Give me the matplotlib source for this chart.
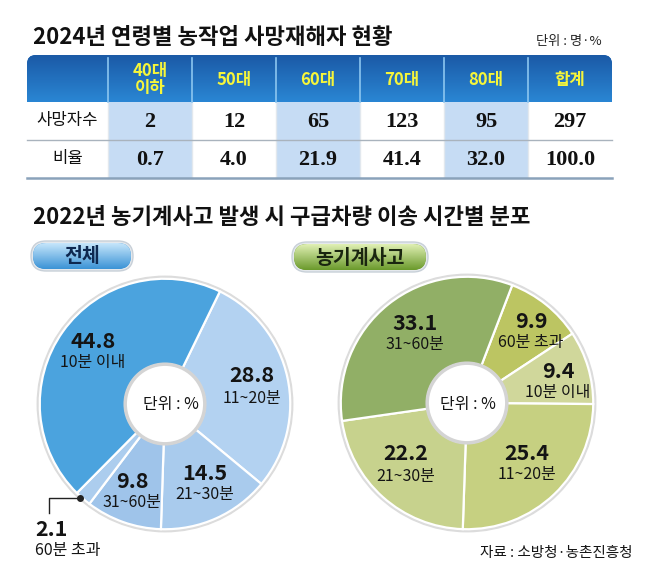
import numpy as np
import matplotlib
matplotlib.use("Agg")
import matplotlib.pyplot as plt
from matplotlib.patches import FancyBboxPatch, Rectangle, Circle

plt.rcParams['font.family'] = ['Noto Sans CJK KR', 'DejaVu Sans']

# ---- data ----
title_top = "2024년 연령별 농작업 사망재해자 현황"
unit_top = "단위 : 명·%"
age_groups = ["40대\n이하", "50대", "60대", "70대", "80대", "합계"]
row_names = ["사망자수", "비율"]
deaths = [2, 12, 65, 123, 95, 297]
ratios = [0.7, 4.0, 21.9, 41.4, 32.0, 100.0]

title_bottom = "2022년 농기계사고 발생 시 구급차량 이송 시간별 분포"
all_labels = ["11~20분", "21~30분", "31~60분", "60분 초과", "10분 이내"]
all_values = [28.8, 14.5, 9.8, 2.1, 44.8]
farm_labels = ["60분 초과", "10분 이내", "11~20분", "21~30분", "31~60분"]
farm_values = [9.9, 9.4, 25.4, 22.2, 33.1]
source = "자료 : 소방청·농촌진흥청"

W, H = 658, 581
fig = plt.figure(figsize=(W / 100, H / 100), dpi=100)
fig.patch.set_facecolor("white")


def gradient(ax, x0, x1, y0, y1, c_top, c_bot, clip=None, z=1):
    a = np.array(matplotlib.colors.to_rgb(c_top))
    b = np.array(matplotlib.colors.to_rgb(c_bot))
    t = np.linspace(0, 1, 64)[:, None, None]
    img = a * (1 - t) + b * t
    im = ax.imshow(img, extent=(x0, x1, y1, y0), aspect="auto", zorder=z,
                   interpolation="bilinear")
    if clip is not None:
        im.set_clip_path(clip)
    return im


# ---- donuts ----
def donut(cx, cy, r, values, colors, start):
    dax = fig.add_axes([(cx - r) / W, 1 - (cy + r) / H, 2 * r / W, 2 * r / H])
    hole = 41 / r
    dax.add_patch(Circle((0, 0), 1.02, color="#dcdcdc", zorder=0))
    dax.pie(values, colors=colors, startangle=start, counterclock=False,
            wedgeprops=dict(width=1 - hole, edgecolor="white", linewidth=1.6))
    dax.add_patch(Circle((0, 0), hole, facecolor="white", edgecolor="#d4d4d4",
                         lw=2.5, zorder=5))
    dax.set_xlim(-1.03, 1.03)
    dax.set_ylim(-1.03, 1.03)
    dax.set_aspect("equal")
    dax.axis("off")
    return dax


donut(165, 404, 129, all_values,
      ["#b3d2f1", "#a9cbed", "#9fc4ea", "#accdee", "#4ba3de"], 64)
donut(467, 403, 130, farm_values,
      ["#bcc562", "#d0d79b", "#c6d081", "#c7d28d", "#91af66"], 69)

# ---- main overlay axes ----
ax = fig.add_axes([0, 0, 1, 1], zorder=5)
ax.patch.set_alpha(0)
ax.axis("off")

ax.text(33, 38, title_top, fontsize=16, fontweight="bold", va="center", color="#111111")
ax.text(602, 42, unit_top, fontsize=9.5, ha="right", va="center", color="#222222")

# table
col_x = [27, 108, 192, 276, 360, 444, 528, 612]
hdr_top, hdr_bot, r1_bot, r2_bot = 55, 102, 140, 178

hdr = FancyBboxPatch((col_x[0], hdr_top), col_x[-1] - col_x[0], 60,
                     boxstyle="round,pad=0,rounding_size=9",
                     facecolor="#1e6dbd", edgecolor="none", zorder=1)
ax.add_patch(hdr)
gradient(ax, col_x[0], col_x[-1], hdr_top, hdr_bot, "#1b5aa6", "#2a86d4", clip=hdr, z=1)
for x in col_x[1:-1]:
    ax.plot([x, x], [hdr_top + 3, hdr_bot], color="#8cc6f0", lw=1.2, zorder=3)

for i, name in enumerate(age_groups):
    xc = (col_x[i + 1] + col_x[i + 2]) / 2
    ax.text(xc, (hdr_top + hdr_bot) / 2 + 1, name, fontsize=12, fontweight="bold",
            color="#f6f63a", ha="center", va="center", linespacing=0.95, zorder=4)

# body cells
for i in range(len(col_x) - 1):
    shaded = i in (1, 3, 5)
    fc = "#c6dcf4" if shaded else "white"
    ax.add_patch(Rectangle((col_x[i], hdr_bot), col_x[i + 1] - col_x[i],
                           r2_bot - hdr_bot, facecolor=fc, edgecolor="none", zorder=2))
    if i > 0:
        ax.plot([col_x[i], col_x[i]], [hdr_bot, r2_bot], color="#e2e8ee", lw=1, zorder=2.5)
ax.plot([col_x[0], col_x[-1]], [r1_bot, r1_bot], color="#a9b3bd", lw=1, zorder=3)
ax.plot([col_x[0], col_x[-1]], [r2_bot, r2_bot], color="#8aa2ba", lw=1.8, zorder=3)

rows = [[str(v) for v in deaths], [f"{v:.1f}" for v in ratios]]
row_mid = [(hdr_bot + r1_bot) / 2, (r1_bot + r2_bot) / 2]
for j, name in enumerate(row_names):
    ax.text((col_x[0] + col_x[1]) / 2, row_mid[j], name, fontsize=12,
            ha="center", va="center", color="#111111", zorder=4)
    for i, txt in enumerate(rows[j]):
        ax.text((col_x[i + 1] + col_x[i + 2]) / 2, row_mid[j] + 1, txt, fontsize=16,
                family=["Liberation Serif"], fontweight="bold",
                ha="center", va="center", color="#111111", zorder=4)

ax.text(33, 218, title_bottom, fontsize=16, fontweight="bold", va="center", color="#111111")


# pills
def pill(x0, x1, y0, y1, c_top, c_bot, text, tcolor):
    ax.add_patch(FancyBboxPatch((x0 - 2, y0 - 2), x1 - x0 + 4, y1 - y0 + 4,
                                boxstyle="round,pad=0,rounding_size=%d" % ((y1 - y0) / 2 + 2),
                                facecolor="#e4e8ec", edgecolor="#c8d0d8", lw=1, zorder=1))
    p = FancyBboxPatch((x0, y0), x1 - x0, y1 - y0,
                       boxstyle="round,pad=0,rounding_size=%d" % ((y1 - y0) / 2),
                       facecolor=c_bot, edgecolor="none", zorder=2)
    ax.add_patch(p)
    gradient(ax, x0, x1, y0, y1, c_top, c_bot, clip=p, z=2)
    ax.text((x0 + x1) / 2, (y0 + y1) / 2 + 1, text, fontsize=14, fontweight="bold",
            ha="center", va="center", color=tcolor, zorder=4)


pill(33, 131, 243, 269, "#c6e6fb", "#3b93d6", "전체", "#0e2850")
pill(294, 426, 244, 270, "#e0f0b4", "#6b9a2c", "농기계사고", "#1a2610")

# donut labels
all_pos = [(252, 376), (205, 473), (132, 481), (35, 529), (93, 341)]
for (x, y), v, lab in zip(all_pos, all_values, all_labels):
    ha = "left" if v == all_values[3] else "center"
    ax.text(x, y, f"{v:.1f}", fontsize=15.5, fontweight="bold", ha=ha, va="center",
            color="#141414", zorder=6)
    ax.text(x, y + 22, lab, fontsize=11.5, ha=ha, va="center", color="#141414", zorder=6)
ax.plot([80, 49, 49], [498, 498, 513], color="#222222", lw=1, zorder=6)
ax.plot([80], [498], "o", color="#222222", ms=4, zorder=6)
ax.text(171, 404, "단위 : %", fontsize=11.5, ha="center", va="center", color="#141414", zorder=6)

farm_pos = [(531, 321), (558, 371), (527, 453), (406, 454), (415, 323)]
for (x, y), v, lab in zip(farm_pos, farm_values, farm_labels):
    ax.text(x, y, f"{v:.1f}", fontsize=15.5, fontweight="bold", ha="center", va="center",
            color="#141414", zorder=6)
    ax.text(x, y + 22, lab, fontsize=11.5, ha="center", va="center", color="#141414", zorder=6)
ax.text(468, 404, "단위 : %", fontsize=11.5, ha="center", va="center", color="#141414", zorder=6)

ax.text(632, 553, source, fontsize=10.5, ha="right", va="center", color="#141414")

ax.set_xlim(0, W)
ax.set_ylim(H, 0)

fig.savefig("out.png", dpi=100)
